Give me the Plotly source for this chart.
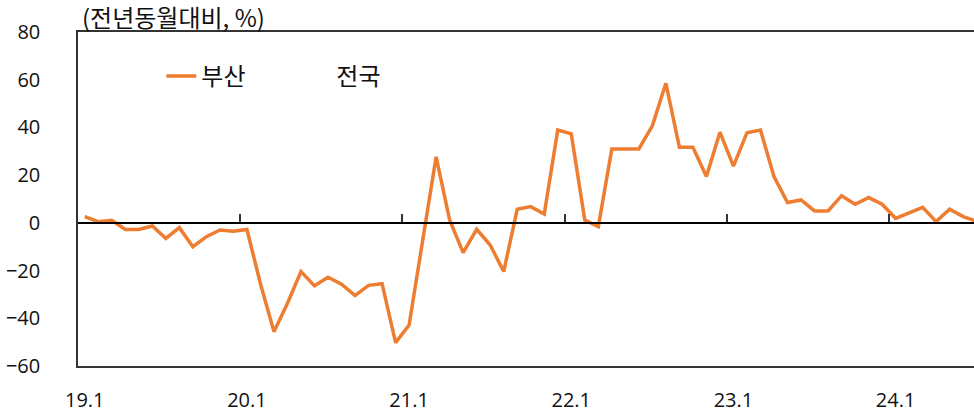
import plotly.graph_objects as go

# Monthly, 2019.1 - 2024.7 (index 0..66)
busan = [2.6, 0.5, 1.1, -2.8, -2.8, -1.3, -6.5, -2.0, -10.0, -5.8, -3.0, -3.5,
         -2.8, -25.5, -45.6, -33.7, -20.4, -26.4, -22.8, -25.7, -30.5, -26.2, -25.5, -50.2,
         -42.8, -8.0, 27.7, 1.2, -12.5, -2.7, -9.3, -20.4, 5.7, 6.8, 3.7, 38.9,
         37.3, 1.2, -1.6, 31.0, 31.0, 31.0, 40.7, 58.5, 31.7, 31.7, 19.4, 38.0,
         23.8, 37.8, 38.9, 19.4, 8.5, 9.6, 5.0, 5.0, 11.4, 7.8, 10.6, 7.8,
         1.9, 4.4, 6.5, 0.5, 5.7, 2.6, 0.6]
months = list(range(len(busan)))
tick_idx = [0, 12, 24, 36, 48, 60]
tick_labels = ["19.1", "20.1", "21.1", "22.1", "23.1", "24.1"]
y_ticks = [80, 60, 40, 20, 0, -20, -40, -60]
year_bounds = [i - 0.5 for i in tick_idx[1:]]

FONT = "Open Sans, Noto Sans CJK KR, sans-serif"
KFONT = "Noto Sans CJK KR, Open Sans, sans-serif"
AX = "#333333"
FS = 20
KS = 24

fig = go.Figure()
fig.add_trace(go.Scatter(x=months, y=busan, mode="lines", name="부산",
                         line=dict(color="#ED7D31", width=3.5)))
fig.add_trace(go.Scatter(x=[None], y=[None], mode="lines", name="전국",
                         line=dict(color="rgba(0,0,0,0)", width=3.5)))
# zero-line axis with year-boundary ticks
fig.add_trace(go.Scatter(x=[None], y=[None], xaxis="x2", showlegend=False))

xr = [-0.5, 65.8]
ymin, ymax = -60, 80
fig.update_layout(
    width=974, height=412,
    margin=dict(l=78, r=0, t=32, b=46),
    plot_bgcolor="white", paper_bgcolor="white",
    font=dict(family=FONT, size=FS, color="#111"),
    showlegend=True,
    legend=dict(orientation="h", x=0.093, y=0.867, xanchor="left", yanchor="middle",
                font=dict(size=KS, family=KFONT), entrywidth=90, bgcolor="rgba(0,0,0,0)"),
    xaxis=dict(range=xr, tickmode="array", tickvals=tick_idx, ticktext=tick_labels,
               showgrid=False, zeroline=False, showline=True, linecolor=AX, linewidth=1.5,
               mirror=True, ticks="", ticklabelstandoff=15, tickfont=dict(size=FS),
               automargin=False),
    xaxis2=dict(range=xr, overlaying="x", anchor="free",
                position=(0 - ymin) / (ymax - ymin), side="top",
                tickmode="array", tickvals=year_bounds, ticks="outside", ticklen=8,
                tickcolor=AX, tickwidth=1.5, showticklabels=False, automargin=False,
                showline=True, linecolor="#000", linewidth=1.5, showgrid=False, zeroline=False),
    yaxis=dict(range=[ymin, ymax], tickmode="array", tickvals=y_ticks,
               showgrid=False, zeroline=False, showline=True, linecolor=AX, linewidth=1.5,
               ticks="", ticklabelstandoff=32, tickfont=dict(size=FS), automargin=False),
)
fig.add_annotation(text="(전년동월대비, %)", xref="paper", yref="paper", x=0, y=1,
                   xanchor="left", yanchor="bottom", xshift=2, yshift=-4,
                   showarrow=False, font=dict(size=KS, family=KFONT))
fig.write_html("out.html", config={"displayModeBar": False},
               post_script="document.body.style.margin='0';document.body.style.overflow='hidden';")
